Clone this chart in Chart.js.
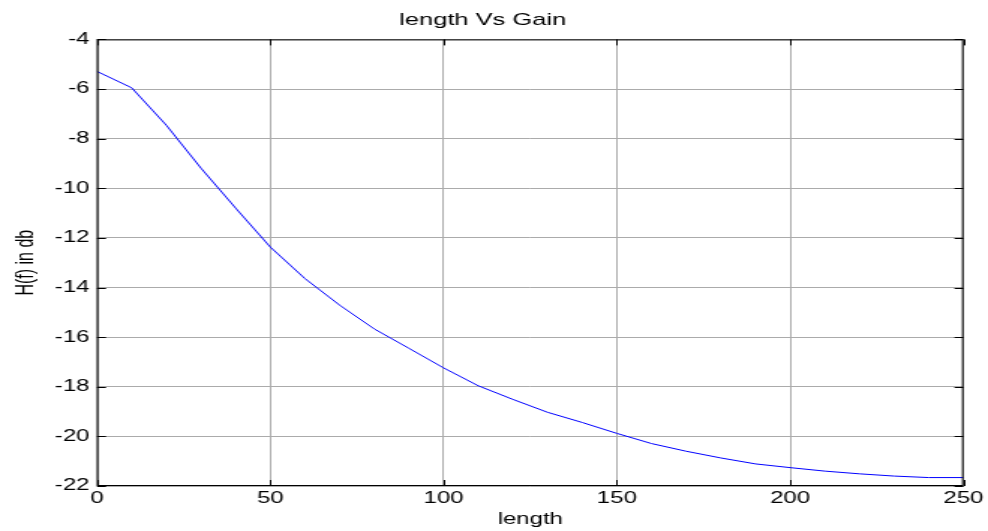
<!DOCTYPE html>
<html>
<head>
<meta charset="utf-8">
<title>length Vs Gain</title>
<script src="https://cdn.jsdelivr.net/npm/chart.js@4.4.1/dist/chart.umd.min.js"></script>
<style>
  html, body { margin: 0; padding: 0; background: #ffffff; overflow: hidden; }
  #wrap { width: 988px; height: 531px; overflow: hidden; }
  /* the reference picture is stretched sideways, so the canvas is too */
  #lineChart1 { display: block; transform: scaleX(1.4992); transform-origin: 0 0; }
</style>
</head>
<body>
<div id="wrap">
  <canvas id="lineChart1" width="659" height="531"></canvas>
</div>
<script>
// ---------------------------- data ----------------------------
const lengths = [0, 10, 20, 30, 40, 50, 60, 70, 80, 90, 100, 110, 120,
                 130, 140, 150, 160, 170, 180, 190, 200, 210, 220, 230, 240, 250];
const gainDb  = [-5.29, -5.95, -7.46, -9.19, -10.8, -12.37, -13.64, -14.71, -15.67, -16.45,
                 -17.24, -17.96, -18.51, -19.03, -19.44, -19.88, -20.29, -20.6, -20.87,
                 -21.11, -21.26, -21.4, -21.51, -21.6, -21.66, -21.66];

const xTicks = [0, 50, 100, 150, 200, 250];
const yTicks = [-22, -20, -18, -16, -14, -12, -10, -8, -6, -4];

const fontFamily = '"Liberation Sans", Arial, sans-serif';

// MATLAB style box round the plot with ticks pointing inwards
const boxPlugin = {
  id: 'matlabBox',
  afterDraw(chart) {
    const ctx = chart.ctx;
    const a = chart.chartArea;
    const xs = chart.scales.x;
    const ys = chart.scales.y;
    ctx.save();
    ctx.strokeStyle = '#000000';
    ctx.lineWidth = 1;
    ctx.strokeRect(a.left + 0.5, a.top + 0.5, a.right - a.left - 1, a.bottom - a.top - 1);
    ctx.beginPath();
    xTicks.forEach(v => {
      const px = Math.round(xs.getPixelForValue(v)) + 0.5;
      ctx.moveTo(px, a.bottom); ctx.lineTo(px, a.bottom - 6);
      ctx.moveTo(px, a.top);    ctx.lineTo(px, a.top + 6);
    });
    yTicks.forEach(v => {
      const py = Math.round(ys.getPixelForValue(v)) + 0.5;
      ctx.moveTo(a.left, py);  ctx.lineTo(a.left + 6, py);
      ctx.moveTo(a.right, py); ctx.lineTo(a.right - 6, py);
    });
    ctx.stroke();
    ctx.restore();
  }
};

function createChart(){
  const points = lengths.map((x, i) => ({ x: x, y: gainDb[i] }));
  const lineChart = document.getElementById('lineChart1');

  new Chart(lineChart, {
    type: 'line',
    data: {
      datasets: [{
        label: 'gain',
        data: points,
        borderColor: '#0000ff',
        borderWidth: 1,
        pointRadius: 0,
        fill: false,
        tension: 0
      }]
    },
    options: {
      responsive: false,
      animation: false,
      layout: { padding: { left: 0, right: 15, top: 0, bottom: 0 } },
      scales: {
        x: {
          type: 'linear',
          min: 0,
          max: 250,
          afterFit: s => { s.height = 45; },
          afterBuildTicks: s => { s.ticks = xTicks.map(v => ({ value: v })); },
          ticks: {
            color: '#000000',
            padding: 3,
            maxRotation: 0,
            font: { family: fontFamily, size: 16 }
          },
          grid: { color: '#ababab', lineWidth: 1, drawTicks: false },
          border: { display: false },
          title: {
            display: true,
            text: 'length',
            color: '#000000',
            padding: { top: 0, bottom: 2 },
            font: { family: fontFamily, size: 16 }
          }
        },
        y: {
          min: -22,
          max: -4,
          afterFit: s => { s.width = 64.7; },
          afterBuildTicks: s => { s.ticks = yTicks.map(v => ({ value: v })); },
          ticks: {
            color: '#000000',
            padding: 5,
            font: { family: fontFamily, size: 16 }
          },
          grid: { color: '#ababab', lineWidth: 1, drawTicks: false },
          border: { display: false },
          title: {
            display: true,
            text: 'H(f) in db',
            color: '#000000',
            padding: { top: 8, bottom: 0 },
            font: { family: fontFamily, size: 16 }
          }
        }
      },
      plugins: {
        legend: { display: false },
        tooltip: { enabled: false },
        title: {
          display: true,
          text: 'length Vs Gain',
          color: '#000000',
          font: { family: fontFamily, size: 17, weight: 'normal' },
          padding: { top: 10, bottom: 9 }
        }
      }
    },
    plugins: [boxPlugin]
  });
}

window.onload = function(){
  createChart();
}
</script>
</body>
</html>
